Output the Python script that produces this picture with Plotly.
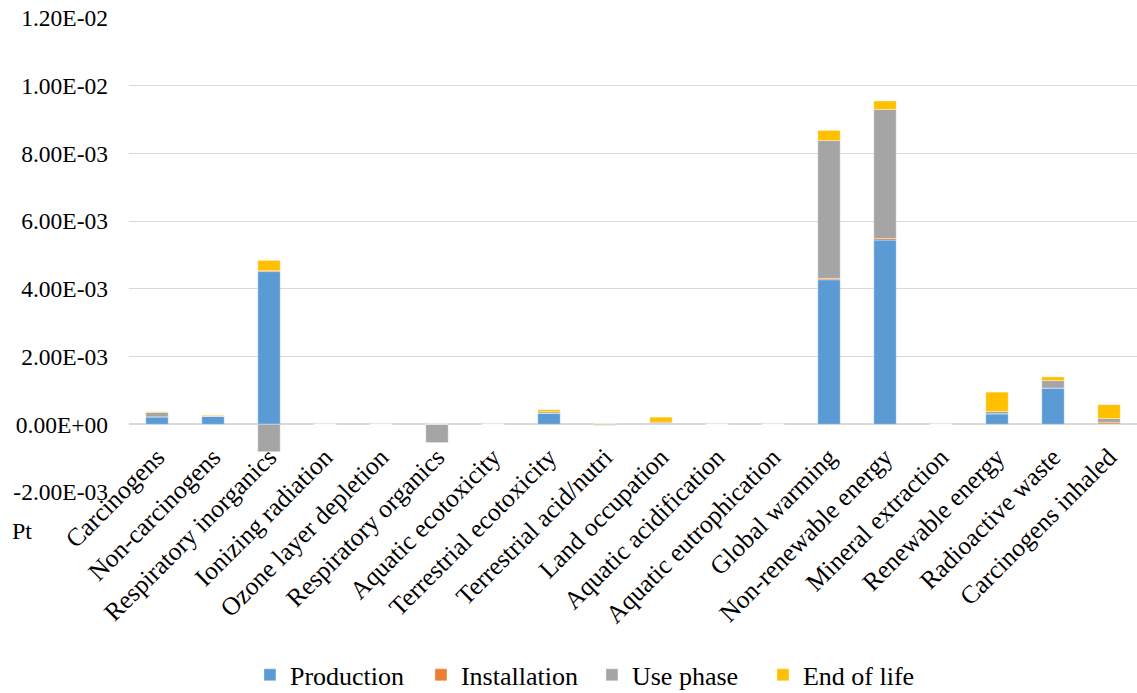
import plotly.graph_objects as go

categories = ["Carcinogens", "Non-carcinogens", "Respiratory inorganics", "Ionizing radiation",
              "Ozone layer depletion", "Respiratory organics", "Aquatic ecotoxicity",
              "Terrestrial ecotoxicity", "Terrestrial acid/nutri", "Land occupation",
              "Aquatic acidification", "Aquatic eutrophication", "Global warming",
              "Non-renewable energy", "Mineral extraction", "Renewable energy",
              "Radioactive waste", "Carcinogens inhaled"]

production   = [2.2e-4, 2.3e-4, 4.51e-3, 0, 0, 0, 0, 3.2e-4, 1.0e-5, 2.0e-5, 0, 0, 4.27e-3, 5.44e-3, 0, 3.1e-4, 1.07e-3, 1.0e-5]
installation = [0, 0, 3.0e-5, 0, 0, 0, 0, 0, 0, 0, 0, 0, 4.0e-5, 5.0e-5, 0, 0, 0, 5.0e-5]
use_phase    = [1.3e-4, 2.0e-5, -8.1e-4, 0, 0, -5.4e-4, 0, 5.0e-5, -3.0e-5, 4.0e-5, 0, 0, 4.07e-3, 3.81e-3, 0, 7.0e-5, 2.2e-4, 1.1e-4]
end_of_life  = [2.0e-5, 2.0e-5, 3.0e-4, 0, 0, 0, 0, 6.0e-5, 1.0e-5, 1.5e-4, 0, 0, 3.0e-4, 2.5e-4, 0, 5.7e-4, 1.1e-4, 4.1e-4]

series_names = ["Production", "Installation", "Use phase", "End of life"]
series_colors = ["#5B9BD5", "#ED7D31", "#A5A5A5", "#FFC000"]

y_tickvals = [-0.002, 0.0, 0.002, 0.004, 0.006, 0.008, 0.010, 0.012]
y_ticktext = ["-2.00E-03", "0.00E+00", "2.00E-03", "4.00E-03", "6.00E-03", "8.00E-03", "1.00E-02", "1.20E-02"]

FONT = "Liberation Serif"
Y_MIN, Y_MAX = -0.002, 0.012
zero_pos = (0 - Y_MIN) / (Y_MAX - Y_MIN)

fig = go.Figure()
for name, vals, col in zip(series_names, [production, installation, use_phase, end_of_life], series_colors):
    fig.add_trace(go.Bar(
        x=categories, y=vals, name=name,
        marker=dict(color=col, line=dict(color="rgba(255,255,255,0.6)", width=0.6)),
    ))

fig.update_layout(
    barmode="relative",
    bargap=0.6,
    width=1137, height=693,
    margin=dict(l=129, r=0, t=18, b=201, autoexpand=False),
    paper_bgcolor="white", plot_bgcolor="white",
    font=dict(family=FONT, size=24, color="#000000"),
    showlegend=True,
    legend=dict(orientation="h", x=0.120, xanchor="left", y=-0.386, yanchor="middle",
                font=dict(family=FONT, size=26), itemwidth=30, traceorder="normal",
                entrywidth=126, entrywidthmode="pixels"),
    annotations=[dict(text="Pt", x=-0.118, y=-0.082, xref="paper", yref="paper",
                      showarrow=False, font=dict(family=FONT, size=24), xanchor="left", yanchor="middle")],
)
fig.update_xaxes(tickangle=-45, showgrid=False, showline=False, ticks="",
                 anchor="free", position=zero_pos, ticklabelstandoff=12,
                 tickfont=dict(family=FONT, size=25.5), automargin=False)
fig.update_yaxes(range=[Y_MIN, Y_MAX], tickvals=y_tickvals, ticktext=y_ticktext,
                 showgrid=True, gridcolor="#D9D9D9", gridwidth=1.3,
                 zeroline=True, zerolinecolor="#D9D9D9", zerolinewidth=2,
                 showline=False, ticks="", ticklabelstandoff=20,
                 tickfont=dict(family=FONT, size=23.5), automargin=False)

fig.write_html("out.html")
